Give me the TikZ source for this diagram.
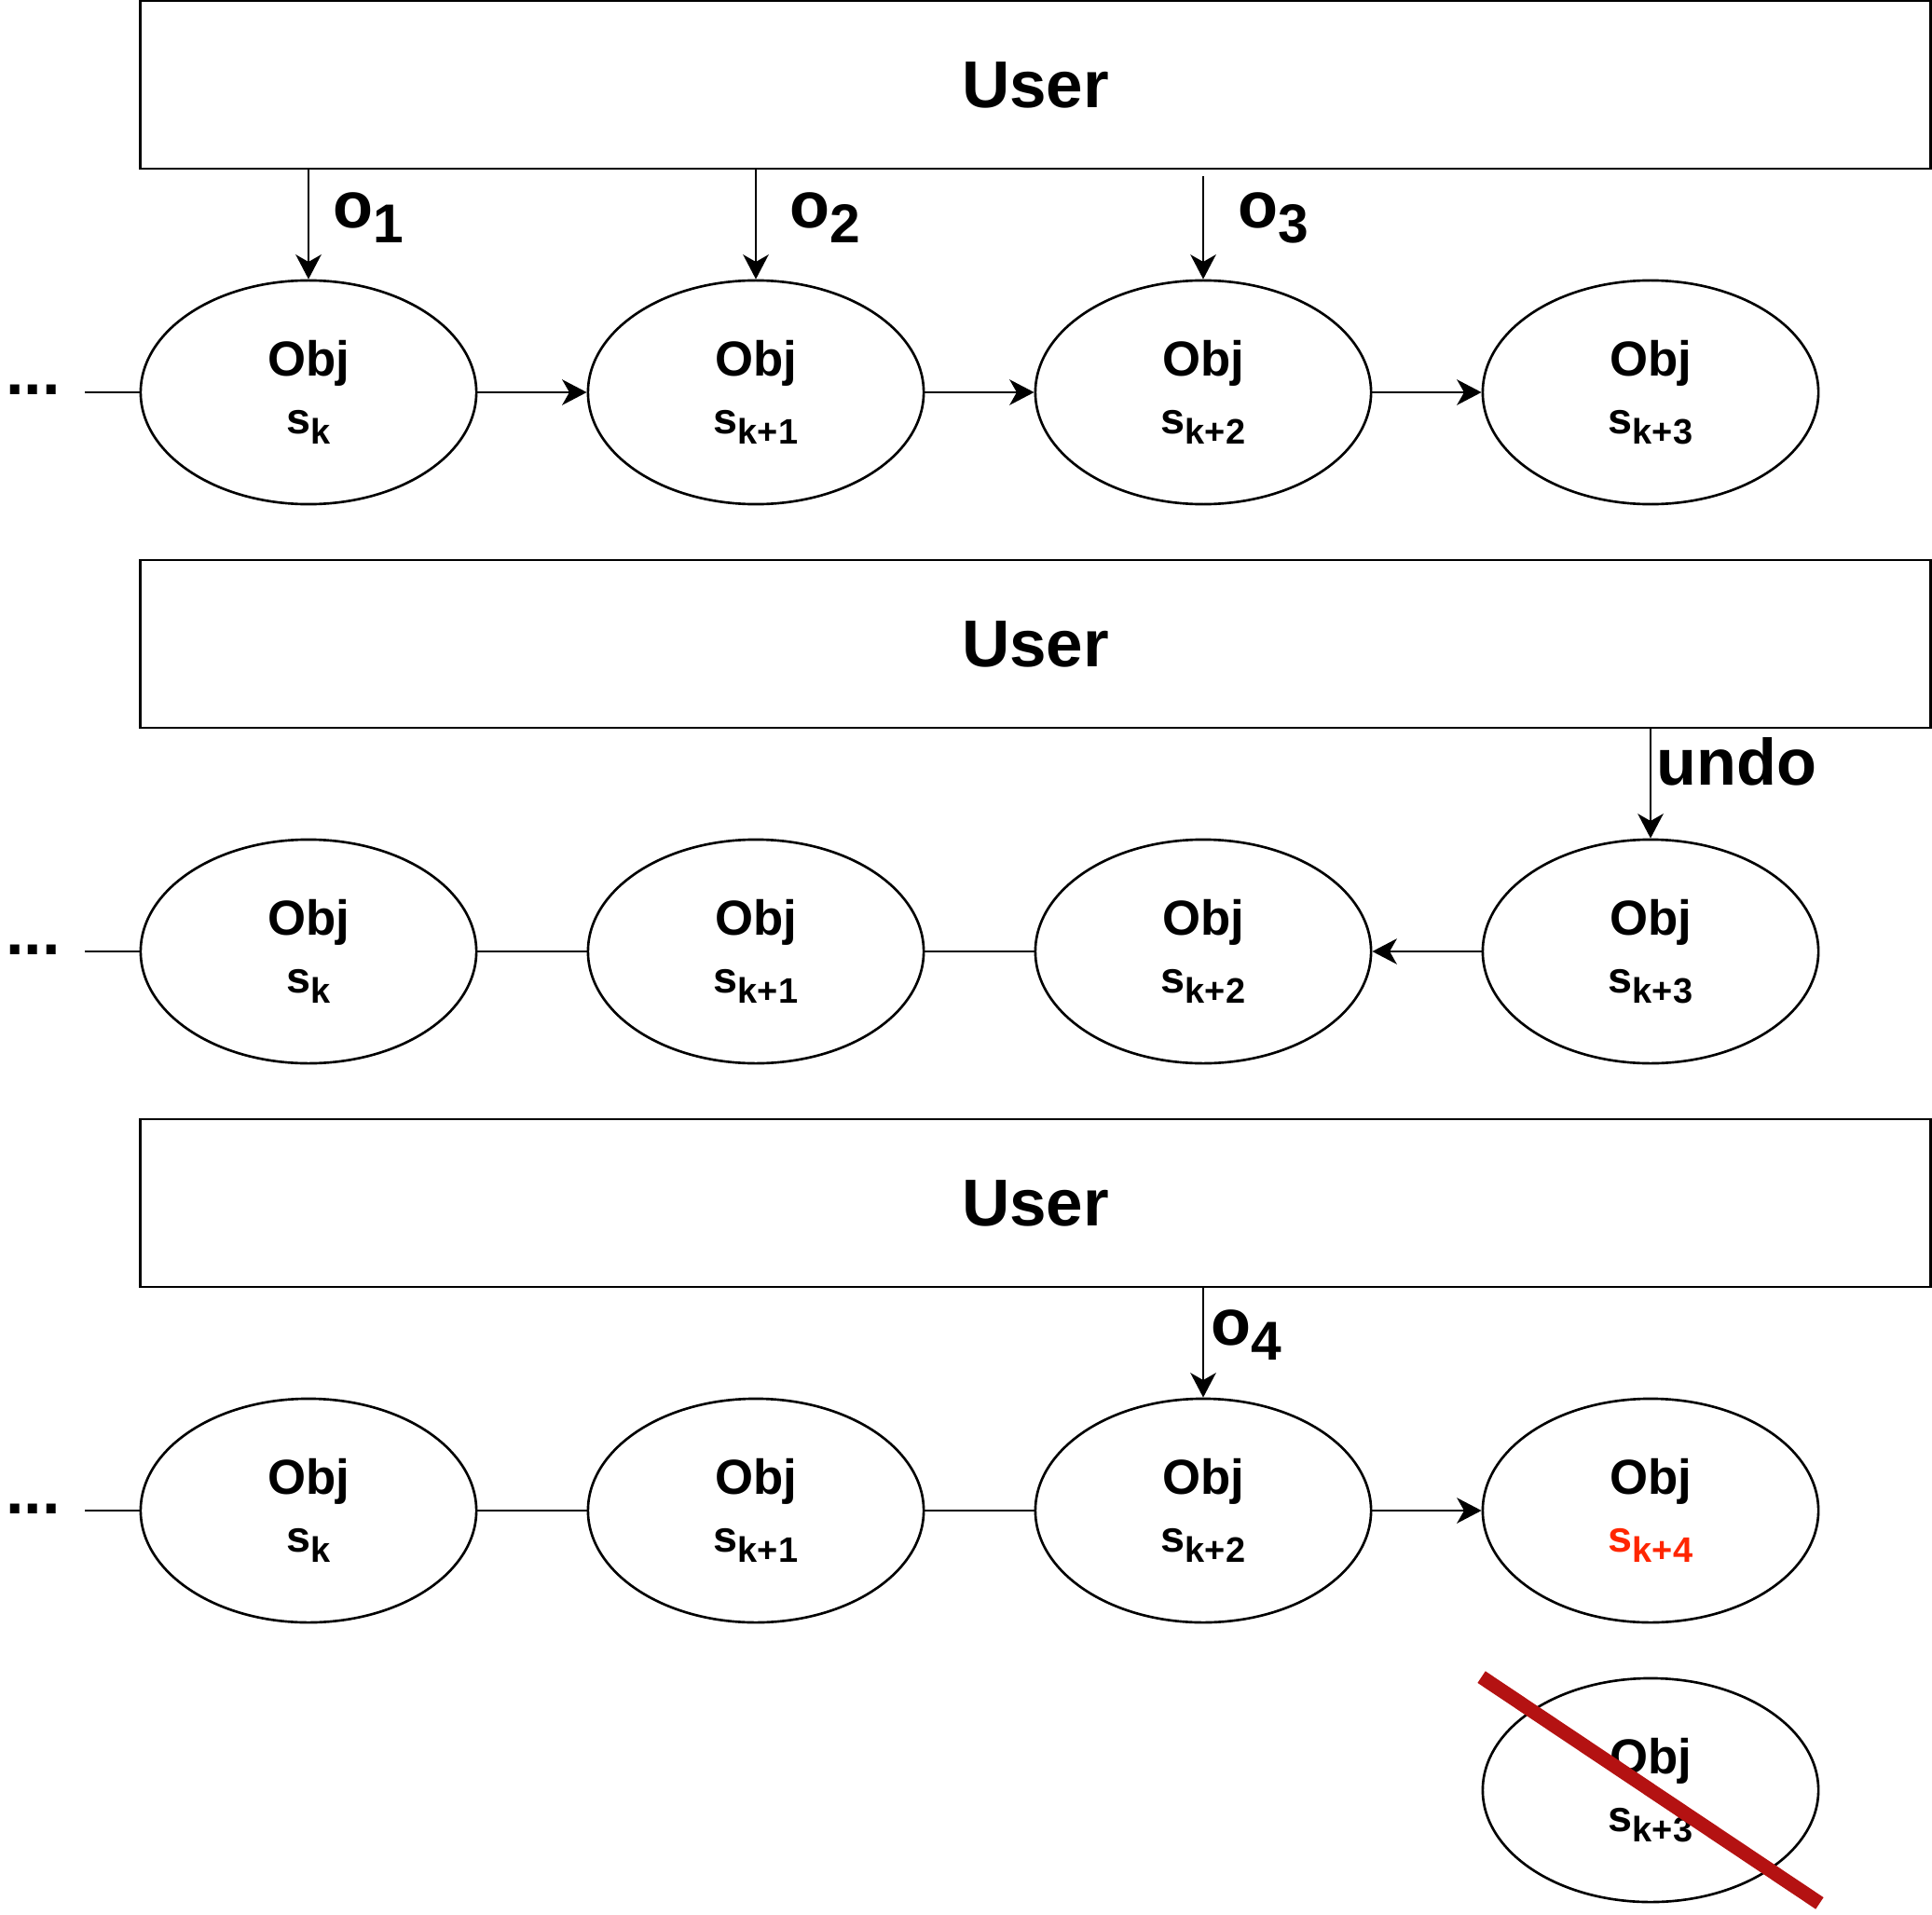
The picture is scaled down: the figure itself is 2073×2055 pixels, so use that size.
\documentclass[tikz,border=0pt]{standalone}
\usepackage{fontspec}
\setmainfont{Liberation Sans}
\usetikzlibrary{arrows.meta,shapes.geometric,positioning}

\definecolor{newred}{RGB}{255,38,0}
\definecolor{crossred}{RGB}{180,18,18}

% lowered subscripts, as in the original labels
\newcommand{\ssub}[1]{\raisebox{-3pt}{\fontsize{10.8}{12}\selectfont #1}}
\newcommand{\osub}[1]{\raisebox{-4.5pt}{\fontsize{16.7}{18}\selectfont #1}}
\newcommand{\objtext}[1]{Obj\\{\fontsize{13.3}{17.6}\selectfont s\ssub{#1}}}

\begin{document}
\begin{tikzpicture}[x=0.01cm, y=-0.01cm, line width=0.75pt,
  >={Stealth[length=7.5pt, width=7.8pt, inset=2.2pt]},
  obj/.style={ellipse, draw, minimum width=3.6cm, minimum height=2.4cm,
    align=center, font=\fontsize{15}{17.6}\selectfont\bfseries},
  userbox/.style={draw, minimum width=19.2cm, minimum height=1.8cm,
    font=\fontsize{20.2}{24}\selectfont\bfseries},
  lbl/.style={anchor=base west, inner sep=0pt,
    font=\fontsize{20}{24}\selectfont\bfseries}]
  \useasboundingbox (0,0) rectangle (2073,2055);

  % first row: three operations
  \node[userbox] (u1) at (1111,91) {User};
  \node[obj] (e11) at (331,421) {\objtext{k}};
  \node[obj] (e12) at (811,421) {\objtext{k+1}};
  \node[obj] (e13) at (1291,421) {\objtext{k+2}};
  \node[obj] (e14) at (1771,421) {\objtext{k+3}};
  \node[lbl] (dots1) at (5,424) {...};
  \coordinate (d1) at (91,421);

  \draw (d1) -- (e11);
  \draw[->] (e11) -- (e12);
  \draw[->] (e12) -- (e13);
  \draw[->] (e13) -- (e14);
  \draw[->] (u1.south -| e11) -- (e11.north)
    node[lbl, pos=0.53, xshift=0.25cm] {o\osub{1}};
  \draw[->] (u1.south -| e12) -- (e12.north)
    node[lbl, pos=0.53, xshift=0.35cm] {o\osub{2}};
  \draw[->, shorten <=0.07cm] (u1.south -| e13) -- (e13.north)
    node[lbl, pos=0.53, xshift=0.36cm] {o\osub{3}};

  % second row: undo
  \node[userbox] (u2) at (1111,691) {User};
  \node[obj] (e21) at (331,1021) {\objtext{k}};
  \node[obj] (e22) at (811,1021) {\objtext{k+1}};
  \node[obj] (e23) at (1291,1021) {\objtext{k+2}};
  \node[obj] (e24) at (1771,1021) {\objtext{k+3}};
  \node[lbl] (dots2) at (5,1024) {...};
  \coordinate (d2) at (91,1021);

  \draw (d2) -- (e21);
  \draw (e21) -- (e22);
  \draw (e22) -- (e23);
  \draw[->] (e24) -- (e23);
  \draw[->] (u2.south -| e24) -- (e24.north)
    node[lbl, pos=0.51, xshift=0.05cm] {undo};

  % third row: new operation after undo
  \node[userbox] (u3) at (1111,1291) {User};
  \node[obj] (e31) at (331,1621) {\objtext{k}};
  \node[obj] (e32) at (811,1621) {\objtext{k+1}};
  \node[obj] (e33) at (1291,1621) {\objtext{k+2}};
  \node[obj] (e34) at (1771,1621)
    {Obj\\{\fontsize{13.3}{17.6}\selectfont\color{newred}s\ssub{k+4}}};
  \node[obj] (old) at (1771,1921) {\objtext{k+3}};
  \node[lbl] (dots3) at (5,1624) {...};
  \coordinate (d3) at (91,1621);

  \draw (d3) -- (e31);
  \draw (e31) -- (e32);
  \draw (e32) -- (e33);
  \draw[->] (e33) -- (e34);
  \draw[->] (u3.south -| e33) -- (e33.north)
    node[lbl, pos=0.52, xshift=0.07cm] {o\osub{4}};

  % discarded state
  \draw[crossred, line width=4.3pt] (old.west |- old.north) -- (old.east |- old.south);
\end{tikzpicture}
\end{document}
